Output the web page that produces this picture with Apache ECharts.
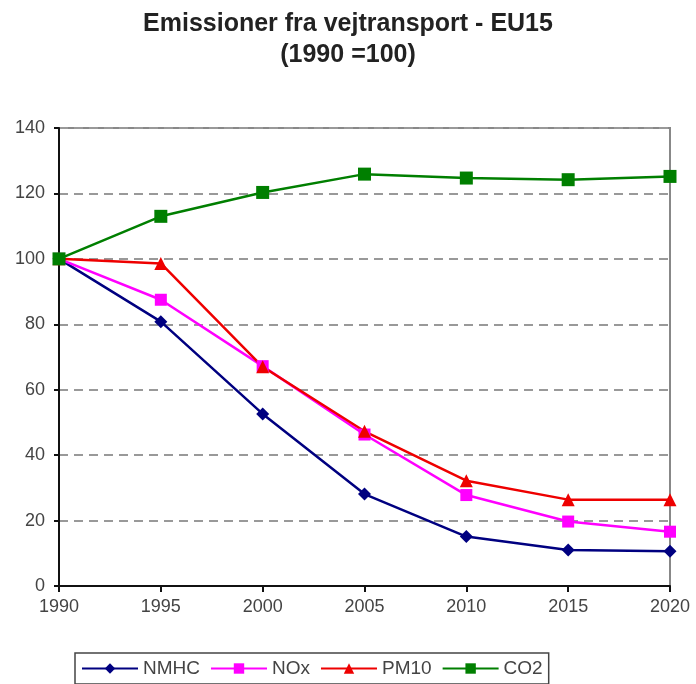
<!DOCTYPE html>
<html><head><meta charset="utf-8">
<script src="https://cdn.jsdelivr.net/npm/echarts@6/dist/echarts.min.js"></script>
<style>html,body{margin:0;padding:0;background:#fff}#c{width:696px;height:684px}</style>
</head><body><div id="c"></div>
<script>
var years = ['1990','1995','2000','2005','2010','2015','2020'];
var nmhc = [100, 80.8, 52.6, 28.1, 15.1, 11.0, 10.6];
var nox  = [100, 87.5, 67.2, 46.3, 27.8, 19.7, 16.6];
var pm10 = [100, 98.6, 67.0, 47.3, 32.2, 26.4, 26.4];
var co2  = [100, 113.0, 120.3, 125.9, 124.7, 124.2, 125.2];
var yTicks = [0, 20, 40, 60, 80, 100, 120, 140];

var chart = echarts.init(document.getElementById('c'));
function mk(name, data, color, symbol, size) {
  return {name: name, type: 'line', data: data, symbol: symbol, symbolSize: size,
    showAllSymbol: true, animation: false,
    lineStyle: {color: color, width: 2.5}, itemStyle: {color: color}};
}
chart.setOption({
  backgroundColor: '#fff',
  textStyle: {fontFamily: 'Liberation Sans'},
  title: {text: 'Emissioner fra vejtransport - EU15\n(1990 =100)', left: 'center', top: 4,
    textStyle: {fontFamily: 'Liberation Sans', fontSize: 25, fontWeight: 'bold', color: '#222', lineHeight: 31}},
  grid: {left: 59, right: 26, top: 128, bottom: 98, show: true, borderColor: '#888', borderWidth: 2},
  legend: {bottom: 0, left: 75, itemWidth: 56, itemHeight: 13, itemGap: 10,
    padding: [6, 6, 6, 6], borderColor: '#444', borderWidth: 1.5,
    textStyle: {fontSize: 19, color: '#444', fontFamily: 'Liberation Sans'},
    data: ['NMHC', 'NOx', 'PM10', 'CO2']},
  xAxis: {type: 'category', data: years, boundaryGap: false,
    axisLine: {lineStyle: {color: '#111', width: 2}},
    axisTick: {show: true, length: 6, lineStyle: {color: '#111', width: 2}},
    axisLabel: {fontSize: 18, color: '#444', margin: 12},
    splitLine: {show: false}},
  yAxis: {type: 'value', min: yTicks[0], max: yTicks[yTicks.length - 1], interval: 20,
    axisLine: {show: true, lineStyle: {color: '#111', width: 2}},
    axisTick: {show: true, length: 5, lineStyle: {color: '#111', width: 2}},
    axisLabel: {fontSize: 18, color: '#444', margin: 14},
    splitLine: {show: true, lineStyle: {color: '#999', type: [9, 6], width: 2}}},
  series: [
    mk('NMHC', nmhc, '#000080', 'diamond', 13),
    mk('NOx', nox, '#FF00FF', 'rect', 12),
    mk('PM10', pm10, '#EE0000', 'triangle', 13),
    mk('CO2', co2, '#007F00', 'rect', 13)
  ]
});
</script></body></html>
